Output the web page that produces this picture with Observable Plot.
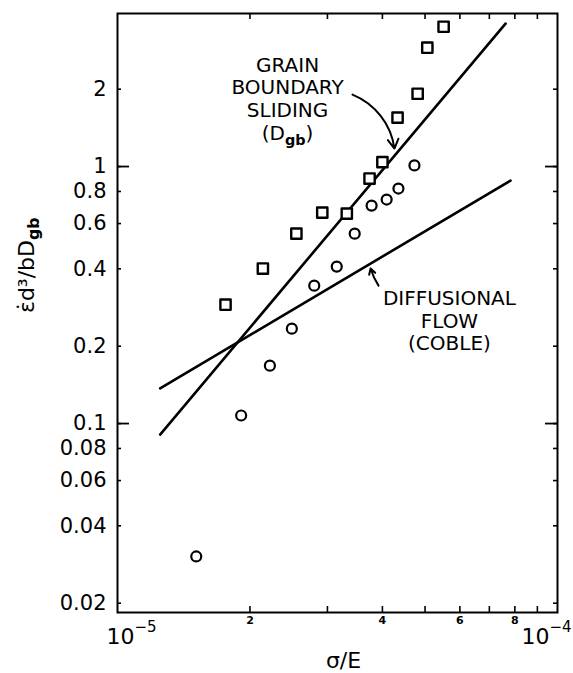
<!DOCTYPE html>
<html><head><meta charset="utf-8">
<script src="https://cdn.jsdelivr.net/npm/d3@7"></script>
<script src="https://cdn.jsdelivr.net/npm/@observablehq/plot@0.6"></script>
<style>body{margin:0;background:#fff} svg{overflow:visible}</style>
</head><body><div id="chart"></div>
<script>
// Grain boundary sliding data (squares)
const gbX = [1.76e-5, 2.14e-5, 2.55e-5, 2.92e-5, 3.32e-5, 3.74e-5, 4.00e-5, 4.33e-5, 4.81e-5, 5.06e-5, 5.51e-5];
const gbY = [0.290, 0.401, 0.548, 0.662, 0.656, 0.898, 1.04, 1.55, 1.92, 2.90, 3.50];
// Diffusional flow data (circles)
const cobleX = [1.51e-5, 1.91e-5, 2.22e-5, 2.49e-5, 2.80e-5, 3.15e-5, 3.46e-5, 3.78e-5, 4.09e-5, 4.35e-5, 4.73e-5];
const cobleY = [0.0304, 0.1075, 0.168, 0.234, 0.344, 0.408, 0.548, 0.705, 0.744, 0.821, 1.01];
// Theory lines
const gbLineX = [1.25e-5, 7.62e-5];
const gbLineY = [0.0906, 3.60];
const difLineX = [1.25e-5, 7.82e-5];
const difLineY = [0.137, 0.882];
// Axis ticks
const yTicks = [0.02, 0.04, 0.06, 0.08, 0.1, 0.2, 0.4, 0.6, 0.8, 1, 2];
const yTickLabels = ["0.02", "0.04", "0.06", "0.08", "0.1", "0.2", "0.4", "0.6", "0.8", "1", "2"];
const yMajor = [0.1, 1];
const xMinor = [2e-5, 3e-5, 4e-5, 5e-5, 6e-5, 7e-5, 8e-5, 9e-5];
const xSmall = [2e-5, 4e-5, 6e-5, 8e-5];
const xSmallLabels = ["2", "4", "6", "8"];
const xPowLo = [1e-5];
const xPowLoLabels = ["10^-5"];
const xPowHi = [1e-4];
const xPowHiLabels = ["10^-4"];
// Annotations
const gbLabel = "GRAIN\nBOUNDARY\nSLIDING\n(Dgb)";
const gbLabelPos = [2.435e-5, 1.84];
const difLabel = "DIFFUSIONAL\nFLOW\n(COBLE)";
const difLabelPos = [5.68e-5, 0.252];
const gbArrow = [3.42e-5, 1.905, 4.26e-5, 1.175];
const difArrow = [3.92e-5, 0.344, 3.76e-5, 0.401];
const xLabel = "σ/E";
const yLabel = "ε̇d³/bDgb";

const W = 573, H = 673, mL = 117, mR = 16, mT = 13, mB = 61;
const pw = W - mL - mR, ph = H - mT - mB;
const font = "DejaVu Sans";

const pts = (xs, ys) => xs.map((x, i) => ({x, y: ys[i]}));

const chart = Plot.plot({
  width: W, height: H,
  marginLeft: mL, marginRight: mR, marginTop: mT, marginBottom: mB,
  style: {fontFamily: font, background: "#fff", color: "#000"},
  x: {type: "log", domain: [1e-5, 1e-4], axis: null},
  y: {type: "log", domain: [0.0184, 3.94], axis: null},
  marks: [
    Plot.frame({stroke: "#000", strokeWidth: 2}),
    // inward ticks
    Plot.tickY(yTicks, {y: d => d, insetRight: pw - 4, strokeWidth: 1.6}),
    Plot.tickY(yMajor, {y: d => d, insetRight: pw - 12, strokeWidth: 1.8}),
    Plot.tickY(yTicks, {y: d => d, insetLeft: pw - 4, strokeWidth: 1.6}),
    Plot.tickY(yMajor, {y: d => d, insetLeft: pw - 12, strokeWidth: 1.8}),
    Plot.tickX(xMinor, {x: d => d, insetTop: ph - 6, strokeWidth: 1.6}),
    Plot.tickX(xMinor, {x: d => d, insetBottom: ph - 6, strokeWidth: 1.6}),
    // tick labels
    Plot.text(yTicks, {y: d => d, text: (d, i) => yTickLabels[i], frameAnchor: "left", dx: -11, textAnchor: "end", fontSize: 21, fill: "#000"}),
    Plot.text(xSmall, {x: d => d, text: (d, i) => xSmallLabels[i], frameAnchor: "bottom", dy: 11, lineAnchor: "bottom", fontSize: 11, fontWeight: "bold", fill: "#000"}),
    Plot.text(xPowLo, {x: d => d, text: (d, i) => xPowLoLabels[i], frameAnchor: "bottom", dy: 31, dx: -11, textAnchor: "start", lineAnchor: "bottom", fontSize: 22, fill: "#000"}),
    Plot.text(xPowHi, {x: d => d, text: (d, i) => xPowHiLabels[i], frameAnchor: "bottom", dy: 31, dx: -36, textAnchor: "start", lineAnchor: "bottom", fontSize: 22, fill: "#000"}),
    Plot.text([xLabel], {frameAnchor: "bottom", dy: 55, dx: 6, lineAnchor: "bottom", fontSize: 22, fill: "#000"}),
    Plot.text([yLabel], {frameAnchor: "left", rotate: -90, dx: -84, lineAnchor: "bottom", fontSize: 22, fill: "#000"}),
    // lines
    Plot.line(pts(gbLineX, gbLineY), {x: "x", y: "y", stroke: "#000", strokeWidth: 2.6}),
    Plot.line(pts(difLineX, difLineY), {x: "x", y: "y", stroke: "#000", strokeWidth: 2.6}),
    // points
    Plot.dot(pts(gbX, gbY), {x: "x", y: "y", symbol: "square", r: 5.8, stroke: "#000", fill: "#fff", strokeWidth: 2.4, strokeLinejoin: "round"}),
    Plot.dot(pts(cobleX, cobleY), {x: "x", y: "y", symbol: "circle", r: 5, stroke: "#000", fill: "#fff", strokeWidth: 2.2}),
    // annotations
    Plot.text([gbLabel], {x: () => gbLabelPos[0], y: () => gbLabelPos[1], lineAnchor: "middle", lineHeight: 1.14, fontSize: 20, fill: "#000"}),
    Plot.text([difLabel], {x: () => difLabelPos[0], y: () => difLabelPos[1], lineAnchor: "middle", lineHeight: 1.14, fontSize: 20, fill: "#000"}),
    Plot.arrow([gbArrow], {x1: d => d[0], y1: d => d[1], x2: d => d[2], y2: d => d[3], bend: 30, headLength: 8, stroke: "#000", strokeWidth: 2}),
    Plot.arrow([difArrow], {x1: d => d[0], y1: d => d[1], x2: d => d[2], y2: d => d[3], bend: 8, headLength: 7, stroke: "#000", strokeWidth: 2})
  ]
});

// subscript "gb" after D, superscript exponent after ^
const NS = "http://www.w3.org/2000/svg";
const span = (txt, attrs) => {
  const s = document.createElementNS(NS, "tspan");
  for (const k in attrs) s.setAttribute(k, attrs[k]);
  s.textContent = txt;
  return s;
};
chart.querySelectorAll("text, tspan").forEach(el => {
  if (el.children.length) return;
  const t = el.textContent;
  let i = t.indexOf("Dgb");
  if (i >= 0) {
    el.textContent = "";
    el.append(t.slice(0, i + 1));
    el.append(span("gb", {dy: "5", "font-size": "0.72em", "font-weight": "bold"}));
    const rest = t.slice(i + 3);
    if (rest) el.append(span(rest, {dy: "-5"}));
    return;
  }
  i = t.indexOf("^");
  if (i >= 0) {
    el.textContent = "";
    el.append(t.slice(0, i));
    el.append(span(t.slice(i + 1).replace("-", "−"), {dy: "-12", "font-size": "15"}));
  }
});

document.getElementById("chart").append(chart);
</script>
</body></html>
